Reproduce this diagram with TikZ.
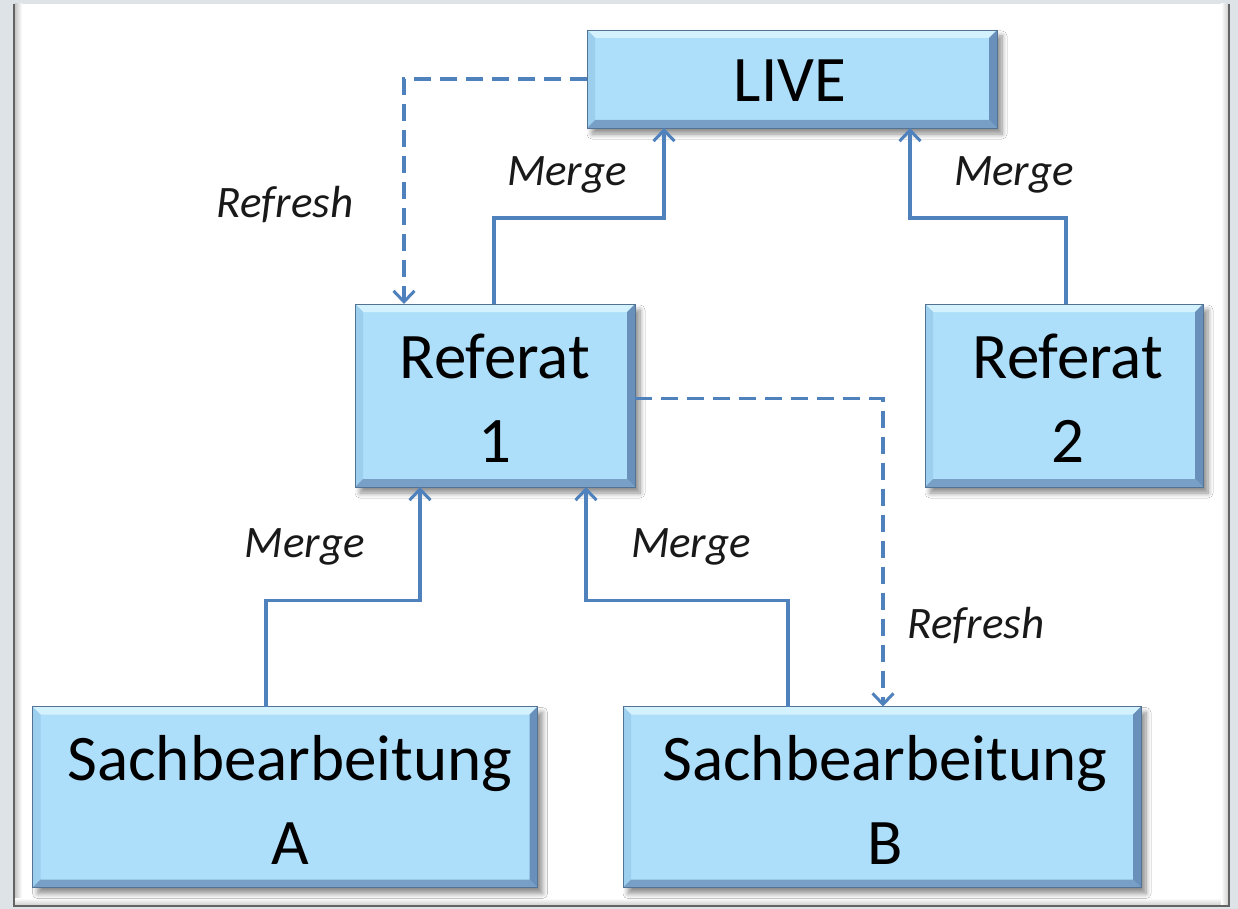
\documentclass[tikz,border=0pt]{standalone}
\usepackage{fontspec}
\setmainfont{Carlito}
\usetikzlibrary{arrows.meta,calc,shadows.blur}

\definecolor{pagebg}{RGB}{221,227,230}
\definecolor{frameline}{RGB}{100,100,100}
\definecolor{boxfill}{RGB}{174,223,250}
\definecolor{bvtop}{RGB}{212,241,254}
\definecolor{bvleft}{RGB}{156,206,238}
\definecolor{bvright}{RGB}{104,144,186}
\definecolor{bvbottom}{RGB}{120,160,198}
\definecolor{link}{RGB}{79,129,189}
\definecolor{labeltext}{RGB}{25,25,25}

% bevelled edges of a box node
\newcommand\bevel[1]{%
  \fill[bvtop] (#1.north west) -- (#1.north east) -- ($(#1.north east)+(-8,8)$) -- ($(#1.north west)+(8,8)$) -- cycle;
  \fill[bvleft] (#1.north west) -- ($(#1.north west)+(8,8)$) -- ($(#1.south west)+(8,-8)$) -- (#1.south west) -- cycle;
  \fill[bvbottom] (#1.south west) -- ($(#1.south west)+(8,-8)$) -- ($(#1.south east)+(-8,-8)$) -- (#1.south east) -- cycle;
  \fill[bvright] (#1.north east) -- (#1.south east) -- ($(#1.south east)+(-8,-8)$) -- ($(#1.north east)+(-8,8)$) -- cycle;
  \draw[bvright!80!black, line width=0.6pt] (#1.north west) rectangle (#1.south east);
}

\tikzset{
  x=1pt, y=-1pt,
  box/.style={rectangle, inner sep=0pt, outer sep=0pt, fill=boxfill,
    blur shadow={shadow xshift=5pt, shadow yshift=-6pt, shadow blur radius=5pt,
      shadow blur steps=8, shadow opacity=45}},
  boxtext/.style={inner sep=0pt, outer sep=0pt, text=black,
    font=\fontsize{65}{84}\selectfont},
  merge/.style={draw=link, line width=3.2pt,
    -{Straight Barb[length=11pt,width=21pt,line width=3pt]}},
  refresh/.style={merge, dash pattern=on 17pt off 9pt},
  lbl/.style={inner sep=0pt, text=labeltext, font=\fontsize{45}{54}\selectfont\itshape},
}

\begin{document}
\begin{tikzpicture}
  % page frame
  \fill[pagebg] (0,0) rectangle (1238,909);
  \useasboundingbox (0,0) rectangle (1238,909);
  \fill[white] (14,4) rectangle (1228,905);
  \shade[left color=black!22, right color=white] (15,4) rectangle (22,905);
  \shade[top color=white, bottom color=black!18] (15,898) rectangle (1228,905);
  \shade[left color=white, right color=black!18] (1221,4) rectangle (1228,905);
  \draw[frameline, line width=2pt] (14,4) -- (14,906) -- (1229,906) -- (1229,4);

  % boxes
  \node[box, minimum width=410pt, minimum height=98pt]  (live) at (792,79) {};
  \node[box, minimum width=280pt, minimum height=183pt] (ref1) at (495,395.5) {};
  \node[box, minimum width=278pt, minimum height=183pt] (ref2) at (1064,395.5) {};
  \node[box, minimum width=505pt, minimum height=181pt] (sa)   at (285,797) {};
  \node[box, minimum width=518pt, minimum height=181pt] (sb)   at (882,797) {};
  \bevel{live}\bevel{ref1}\bevel{ref2}\bevel{sa}\bevel{sb}

  % box captions
  \node[boxtext] (live-t) at ($(live.center)+(-2,2)$) {LIVE};
  \node[boxtext] (ref1-t) at ($(ref1.center)+(0,8)$) {\begin{tabular}{@{}c@{}}Referat\\1\end{tabular}};
  \node[boxtext] (ref2-t) at ($(ref2.center)+(4,8)$) {\begin{tabular}{@{}c@{}}Referat\\2\end{tabular}};
  \node[boxtext] (sa-t)   at ($(sa.center)+(5,9)$)   {\begin{tabular}{@{}c@{}}Sachbearbeitung\\A\end{tabular}};
  \node[boxtext] (sb-t)   at ($(sb.center)+(3,9)$)   {\begin{tabular}{@{}c@{}}Sachbearbeitung\\B\end{tabular}};

  % merge connectors (solid)
  \draw[merge] (ref1.north) ++(-1,0) -- ++(0,-86) -| ([xshift=-128pt]live.south);
  \draw[merge] (ref2.north) ++(2,0) -- ++(0,-86) -| ([xshift=118pt]live.south);
  \draw[merge] ([xshift=-19pt]sa.north) -- ++(0,-106) -| ([xshift=-75pt]ref1.south);
  \draw[merge] ([xshift=-94pt]sb.north) -- ++(0,-106) -| ([xshift=91pt]ref1.south);

  % refresh connectors (dashed)
  \draw[refresh] (live.west) -| ([xshift=-91pt]ref1.north);
  \draw[refresh] ([yshift=-3pt]ref1.east) -| ([xshift=1pt]sb.north);

  % connector labels
  \node[lbl] (m1) at (567,175) {Merge};
  \node[lbl] (m2) at (1014,175) {Merge};
  \node[lbl] (r1) at (285,205) {Refresh};
  \node[lbl] (m3) at (305,547) {Merge};
  \node[lbl] (m4) at (691,547) {Merge};
  \node[lbl] (r2) at (976,626) {Refresh};
\end{tikzpicture}
\end{document}
